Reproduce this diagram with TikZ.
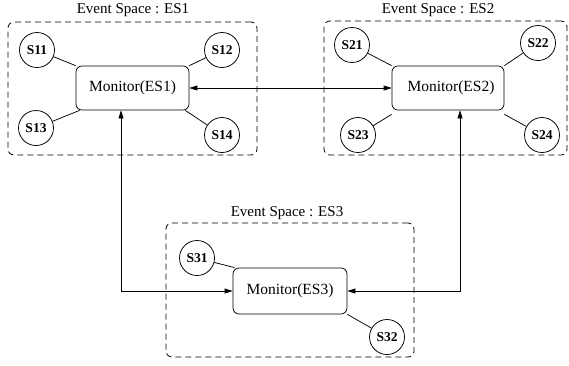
\documentclass[tikz,border=0pt]{standalone}
\usepackage{fontspec}
\setmainfont{Liberation Serif}
\usetikzlibrary{arrows.meta}
\begin{document}
\begin{tikzpicture}[x=1pt,y=-1pt,line width=0.75pt,
  spacebox/.style={draw,line width=0.8pt,dash pattern=on 6pt off 4pt,rounded corners=6pt,inner sep=0pt},
  monbox/.style={draw,rounded corners=6pt,minimum width=113pt,minimum height=44pt,inner sep=0pt,font=\fontsize{15.5}{18}\selectfont},
  sens/.style={draw,circle,minimum size=35pt,inner sep=0pt,font=\fontsize{13.5}{15}\selectfont\bfseries},
  ttl/.style={font=\fontsize{15}{18}\selectfont},
  arr/.style={{Triangle[length=8pt,width=5pt]}-{Triangle[length=8pt,width=5pt]}}]
\useasboundingbox (0,0) rectangle (569,365);
% event space boxes
\node[spacebox,minimum width=249pt,minimum height=133pt] (es1) at (132.5,88.5) {};
\node[spacebox,minimum width=243pt,minimum height=134pt] (es2) at (445.5,88) {};
\node[spacebox,minimum width=248pt,minimum height=134pt] (es3) at (290,290) {};
\node[ttl] (t1) at (133,10) {Event Space : ES1};
\node[ttl] (t2) at (438,10) {Event Space : ES2};
\node[ttl] (t3) at (287,213) {Event Space : ES3};
% monitors
\node[monbox] (m1) at (132.5,88) {Monitor(ES1)};
\node[monbox,minimum width=112pt] (m2) at (448,88) {\hspace{6pt}Monitor(ES2)};
\node[monbox,minimum width=114pt,minimum height=46pt] (m3) at (290,291) {Monitor(ES3)};
% sensors
\node[sens] (s11) at (37,50) {S11};
\node[sens] (s12) at (222,50) {S12};
\node[sens] (s13) at (36,128) {S13};
\node[sens] (s14) at (222,135) {S14};
\node[sens] (s21) at (352,45) {S21};
\node[sens] (s22) at (538,43) {S22};
\node[sens] (s23) at (358,135) {S23};
\node[sens] (s24) at (542,135) {S24};
\node[sens] (s31) at (197,258) {S31};
\node[sens] (s32) at (387,337) {S32};
% sensor links
\draw (s11) -- (m1.north west);
\draw (s12) -- (m1.north east);
\draw (s13) -- ([xshift=4pt]m1.south west);
\draw (s14) -- ([xshift=-4pt]m1.south east);
\draw (s21) -- (m2.north west);
\draw (s22) -- (m2.north east);
\draw (s23) -- ([yshift=-4pt]m2.south west);
\draw (s24) -- ([yshift=-4pt]m2.south east);
\draw (s31) -- ([xshift=2pt]m3.north west);
\draw (s32) -- (m3.south east);
% monitor links
\coordinate (c1) at (121,291);
\coordinate (c2) at (460,291);
\draw[arr] (m1) -- (m2);
\draw[arr] (m1.south -| c1) -- (c1) -- (m3.west);
\draw[arr] (m2.south -| c2) -- (c2) -- (m3.east);
\end{tikzpicture}
\end{document}
